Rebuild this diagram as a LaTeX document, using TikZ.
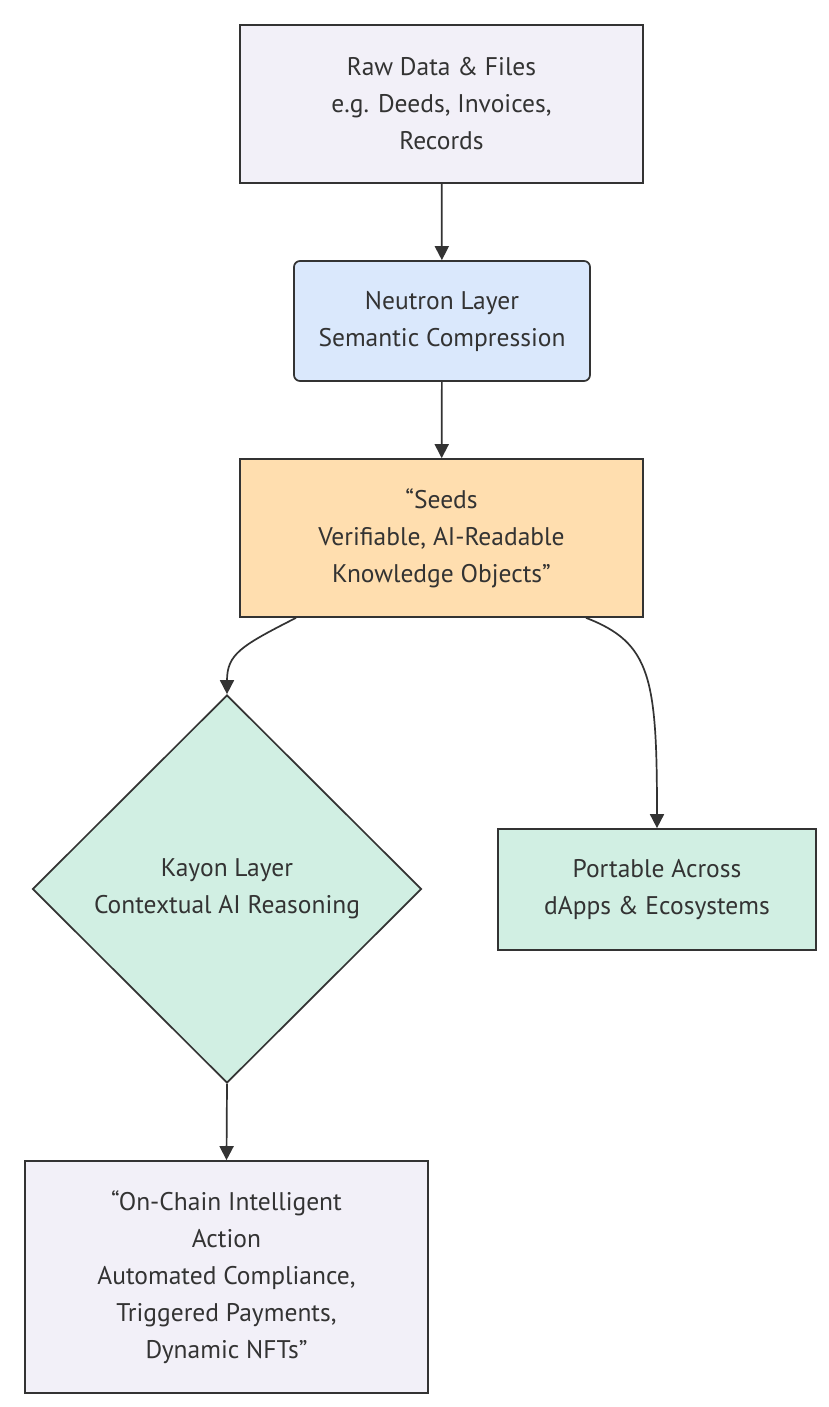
\documentclass[tikz,border=0pt]{standalone}
\usepackage{fontspec}
\setmainfont{PT Sans}
\usetikzlibrary{arrows.meta,shapes.geometric}
\definecolor{lavender}{HTML}{F2F0F8}
\definecolor{paleblue}{HTML}{DAE8FC}
\definecolor{paleorange}{HTML}{FFDEAF}
\definecolor{mint}{HTML}{D1EFE3}
\definecolor{ink}{HTML}{333333}
\tikzset{
	box/.style={draw=ink, line width=1.7pt, text=ink, align=center, inner sep=0pt,
		font=\fontsize{25.5}{37}\selectfont},
	flow/.style={draw=ink, line width=1.7pt, -{Triangle[length=14pt,width=14pt]}}
}

\begin{document}
\begin{tikzpicture}[x=1pt, y=-1pt]
		%%%%% START %%%%%
		\useasboundingbox[fill=white] (0, 0) rectangle (828, 1407);
		
		\node[box, fill=lavender, minimum width=403, minimum height=158] (raw) at (441.5, 104) {Raw Data \& Files\\e.g. Deeds, Invoices,\\Records};
		\node[box, fill=paleblue, rounded corners=6pt, minimum width=296, minimum height=120] (neutron) at (442, 321) {Neutron Layer\\Semantic Compression};
		\node[box, fill=paleorange, minimum width=403, minimum height=158] (seeds) at (441.5, 538) {“Seeds\\Verifiable, AI-Readable\\Knowledge Objects”};
		
		\node[box, fill=mint, diamond, aspect=1, minimum width=389, minimum height=388] (kayon) at (227, 889) {Kayon Layer\\Contextual AI Reasoning};
		\node[box, fill=mint, minimum width=318, minimum height=121] (portable) at (657, 889.5) {Portable Across\\dApps \& Ecosystems};
		
		\node[box, fill=lavender, minimum width=403, minimum height=232] (onchain) at (226.5, 1277) {“On-Chain Intelligent\\Action\\Automated Compliance,\\Triggered Payments,\\Dynamic NFTs”};
		
		\draw[flow] (raw) -- (neutron);
		\draw[flow] (neutron) -- (seeds);
		\draw[flow] ([xshift=-145.5pt]seeds.south) .. controls +(-55, 28) and +(0, -40) .. (kayon.north);
		\draw[flow] ([xshift=144.5pt]seeds.south) .. controls +(65, 25) and +(0, -150) .. (portable.north);
		\draw[flow] (kayon.south) -- (onchain.north);
		
		%%%%% END %%%%%
	\end{tikzpicture}
\end{document}
